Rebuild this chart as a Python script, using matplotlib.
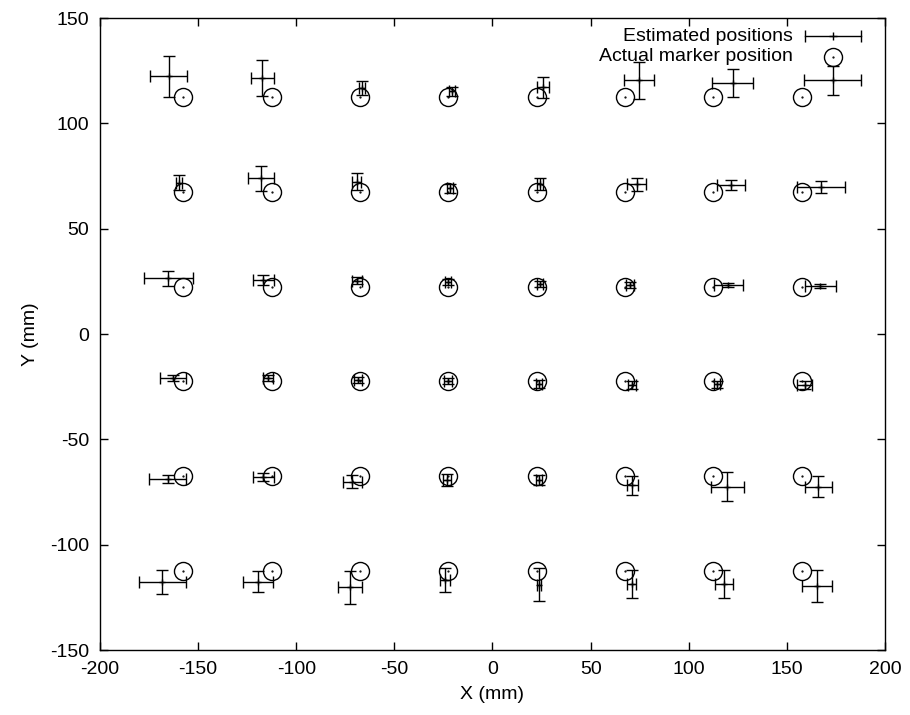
import numpy as np
import matplotlib
matplotlib.use("Agg")
import matplotlib.pyplot as plt

plt.rcParams['font.family'] = ['Liberation Sans', 'DejaVu Sans']
plt.rcParams['axes.unicode_minus'] = False

# actual marker grid (mm)
grid_x = [-157.5, -112.5, -67.5, -22.5, 22.5, 67.5, 112.5, 157.5]
grid_y = [112.5, 67.5, 22.5, -22.5, -67.5, -112.5]

# estimated positions, one row per grid_y row (mm)
est_x = [
    [-165.0, -117.3, -66.6, -20.8, 25.9, 74.8, 122.4, 173.4],
    [-159.7, -117.8, -69.2, -21.7, 24.2, 73.5, 121.4, 167.2],
    [-165.2, -116.8, -69.2, -22.5, 24.2, 70.1, 120.2, 166.9],
    [-162.6, -114.2, -68.4, -22.8, 23.9, 70.9, 114.6, 159.2],
    [-165.5, -116.8, -71.4, -23.3, 23.5, 71.3, 119.7, 166.0],
    [-168.3, -119.3, -72.6, -24.2, 23.7, 70.9, 118.1, 165.2],
]
est_y = [
    [122.3, 121.5, 116.8, 115.2, 117.2, 120.4, 119.1, 120.4],
    [71.9, 73.9, 72.3, 69.2, 71.2, 71.0, 70.7, 69.9],
    [26.4, 25.6, 25.3, 24.8, 23.6, 23.3, 23.3, 22.8],
    [-21.0, -21.0, -21.8, -22.2, -23.6, -24.1, -23.9, -24.1],
    [-68.8, -68.0, -70.1, -69.3, -69.3, -71.7, -72.5, -72.5],
    [-117.8, -117.5, -120.2, -116.8, -119.1, -118.7, -118.7, -119.5],
]
err_x = [
    [9.5, 5.9, 1.5, 1.5, 3.0, 7.6, 10.3, 14.5],
    [1.7, 6.6, 2.4, 1.5, 1.5, 4.9, 7.2, 12.2],
    [12.5, 5.3, 2.5, 1.5, 1.5, 2.1, 7.5, 7.9],
    [6.6, 2.5, 2.0, 2.0, 1.5, 2.1, 1.5, 3.8],
    [9.4, 5.3, 4.8, 2.0, 1.5, 3.0, 8.6, 6.8],
    [11.9, 7.6, 6.1, 2.5, 1.0, 2.4, 4.5, 7.6],
]
err_y = [
    [9.9, 8.7, 3.5, 2.0, 5.0, 8.7, 6.6, 7.0],
    [3.6, 5.8, 4.0, 2.1, 3.0, 3.0, 2.2, 2.9],
    [3.7, 2.4, 1.6, 1.5, 1.5, 1.5, 1.0, 1.0],
    [1.5, 1.5, 1.5, 1.5, 2.0, 2.0, 1.5, 2.0],
    [2.1, 2.0, 3.2, 2.8, 2.4, 4.5, 6.8, 5.1],
    [5.7, 5.1, 7.8, 5.5, 7.8, 6.7, 6.6, 7.7],
]

gx, gy = np.meshgrid(grid_x, grid_y)

fig = plt.figure(figsize=(9.1, 7.15), dpi=100)
ax = fig.add_axes([0.1099, 0.0909, 0.8626, 0.8839])

ax.errorbar(np.ravel(est_x), np.ravel(est_y),
            xerr=np.ravel(err_x), yerr=np.ravel(err_y),
            fmt='+', color='black', ms=5, mew=1.0,
            elinewidth=1.0, capsize=4, capthick=1.0)
ax.plot(gx.ravel(), gy.ravel(), 'o', mfc='none', mec='black', ms=13, mew=1.0)
ax.plot(gx.ravel(), gy.ravel(), '.', color='black', ms=1.2)

# key, gnuplot style: right-justified text, sample on the right
tr = ax.transAxes
ax.text(0.883, 0.970, "Estimated positions", transform=tr, ha='right', va='center', fontsize=14)
ax.text(0.883, 0.939, "Actual marker position", transform=tr, ha='right', va='center', fontsize=14)
ax.plot([0.898, 0.970], [0.971, 0.971], color='black', lw=1.0, transform=tr)
ax.plot([0.898, 0.970], [0.971, 0.971], ls='none', marker='|', ms=8, mew=1.0, color='black', transform=tr)
ax.plot([0.934], [0.971], ls='none', marker='+', ms=6, mew=1.0, color='black', transform=tr)
ax.plot([0.934], [0.939], ls='none', marker='o', mfc='none', mec='black', ms=13, mew=1.0, transform=tr)
ax.plot([0.934], [0.939], ls='none', marker='.', color='black', ms=1.2, transform=tr)

ax.set_xlim(-200, 200)
ax.set_ylim(-150, 150)
ax.set_xticks(np.arange(-200, 201, 50))
ax.set_yticks(np.arange(-150, 151, 50))
ax.tick_params(direction='in', top=True, right=True, length=6, width=1.0, labelsize=14, pad=8)
for s in ax.spines.values():
    s.set_linewidth(1.0)
ax.set_xlabel("X (mm)", fontsize=14, labelpad=6)
ax.set_ylabel("Y (mm)", fontsize=14, labelpad=8)

fig.savefig("out.png", dpi=100)
